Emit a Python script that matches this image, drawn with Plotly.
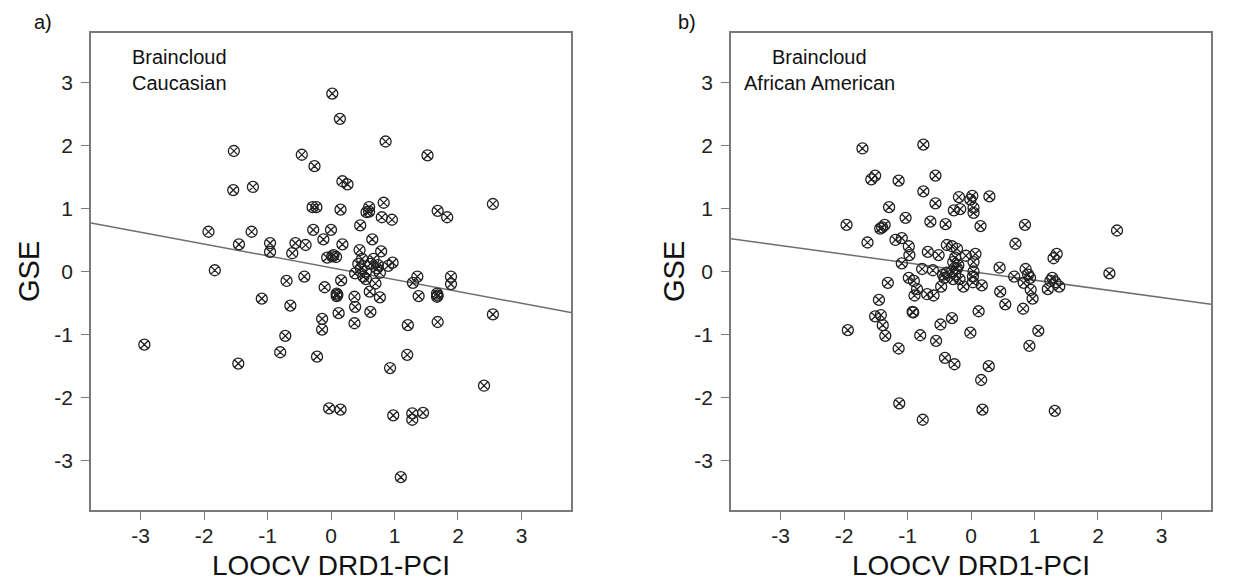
import numpy as np
import plotly.graph_objects as go

# ---------------- data ----------------
cauc_x = [0.02, 0.14, 0.86, -1.53, -0.46, 1.52, -0.26, 0.18, 0.26, -1.54, -1.23, -0.29, -0.23,
          0.15, 0.60, 0.56, 0.83, 2.55, 1.68, 1.83, 0.80, 0.96, 0.46, -1.93, -1.25, -0.28, 0.00,
          -1.45, -0.96, -0.96, -0.56, -0.40, -0.61, -0.12, 0.18, 0.65, -0.06, 0.02, 0.08, 0.45,
          0.79, 0.49, 0.67, 0.43, 0.62, 0.90, 0.97, -1.83, -0.70, -0.42, 0.16, -0.10, 0.38, 0.51,
          0.77, 0.70, 0.61, 0.77, 1.36, 1.29, 1.38, 1.89, 1.89, 1.67, 1.67, -1.09, -0.64, 0.09,
          0.09, 0.37, 0.38, 0.12, 0.62, 0.37, -0.14, -0.14, 2.55, 1.68, 1.21, -0.72, -2.94, -0.80,
          -0.22, 1.20, -1.46, 0.93, 2.41, -0.03, 0.15, 0.98, 1.28, 1.28, 1.45, 1.10,
          0.55, 0.47, 0.72, 0.10, 0.55, 0.74, 1.68, 0.04, 0.60]
cauc_y = [2.82, 2.42, 2.06, 1.91, 1.85, 1.84, 1.67, 1.43, 1.38, 1.29, 1.34, 1.02, 1.02,
          0.98, 1.02, 0.94, 1.09, 1.07, 0.96, 0.86, 0.86, 0.82, 0.73, 0.63, 0.63, 0.66, 0.66,
          0.43, 0.45, 0.31, 0.45, 0.42, 0.29, 0.51, 0.43, 0.51, 0.22, 0.24, 0.23, 0.34,
          0.32, 0.20, 0.20, 0.12, 0.12, 0.09, 0.14, 0.02, -0.15, -0.08, -0.14, -0.25, -0.03, -0.08,
          -0.02, -0.19, -0.32, -0.41, -0.08, -0.18, -0.39, -0.08, -0.20, -0.35, -0.40, -0.43, -0.54, -0.35,
          -0.39, -0.40, -0.56, -0.66, -0.64, -0.82, -0.75, -0.92, -0.68, -0.80, -0.85, -1.02, -1.16, -1.28,
          -1.35, -1.32, -1.46, -1.53, -1.81, -2.17, -2.19, -2.28, -2.25, -2.35, -2.24, -3.26,
          0.00, 0.05, 0.05, -0.37, -0.12, 0.10, -0.38, 0.26, 0.95]

afam_x = [-1.71, -0.75, -1.51, -1.57, -1.14, -0.56, -0.75, -1.29, -0.56, -1.03, -1.96, -1.36, -1.43,
          -1.40, -0.64, -0.40, -0.19, 0.02, -0.01, 0.04, 0.04, -0.27, -0.17, 0.29, 0.15, 0.85, 0.70,
          2.30, -1.63, -1.19, -1.09, -0.98, -0.97, -1.09, -0.77, -0.68, -0.51, -0.38, -0.30, -0.22,
          -0.25, -0.20, 0.07, 0.04, 0.45, 0.86, 1.30, 1.35, 2.18, -1.31, -0.98, -0.90, -0.85, -0.89,
          -0.69, -0.59, -0.47, -1.45, -1.51, -1.42, -1.39, -1.35, -0.92, -0.91, -1.94, -1.14, -0.80,
          -0.48, -0.30, -0.55, -0.41, -0.26, -0.01, 0.12, -0.12, 0.03, 0.17, 0.46, 0.54, 0.82, 0.68,
          0.83, 0.93, 0.94, 0.97, 1.06, 0.92, 1.28, 1.33, 1.21, 1.39, 0.28, 0.16, -1.13, 0.18, 1.32,
          -0.76, -0.44, -0.38, -0.30, -0.25, -0.22, -0.28, -0.18, 0.04, 0.03, -0.60, -0.42, -0.28,
          0.90, 1.25, -0.08]
afam_y = [1.95, 2.01, 1.52, 1.46, 1.44, 1.52, 1.27, 1.02, 1.08, 0.85, 0.74, 0.74, 0.68,
          0.70, 0.79, 0.75, 1.18, 1.20, 1.14, 1.01, 0.93, 0.97, 0.99, 1.19, 0.72, 0.74, 0.44,
          0.65, 0.46, 0.50, 0.53, 0.40, 0.26, 0.13, 0.04, 0.31, 0.26, 0.42, 0.40, 0.36,
          0.22, 0.10, 0.28, 0.15, 0.06, 0.04, 0.21, 0.28, -0.03, -0.18, -0.10, -0.15, -0.28, -0.38,
          -0.36, -0.38, -0.24, -0.45, -0.71, -0.69, -0.85, -1.02, -0.64, -0.65, -0.93, -1.22, -1.01,
          -0.84, -0.74, -1.10, -1.37, -1.47, -0.97, -0.63, -0.24, -0.17, -0.22, -0.32, -0.52, -0.59, -0.08,
          -0.18, -0.10, -0.29, -0.43, -0.94, -1.18, -0.10, -0.17, -0.28, -0.24, -1.50, -1.72, -2.09, -2.19, -2.21,
          -2.35, -0.05, -0.02, 0.00, -0.05, 0.05, 0.15, -0.12, 0.00, -0.08, 0.02, -0.10, -0.12,
          -0.05, -0.15, 0.25]

# regression line coefficients (intercept, slope)
cauc_fit = (0.06, -0.188)
afam_fit = (0.00, -0.137)

tick_vals = [-3, -2, -1, 0, 1, 2, 3]
tick_text = ["-3", "-2", "-1", "0", "1", "2", "3"]
AX_RANGE = [-3.78, 3.78]

panel_labels = ["a)", "b)"]
cohort_labels = [("Braincloud", "Caucasian"), ("Braincloud", "African American")]
x_title = "LOOCV DRD1-PCI"
y_title = "GSE"

# ---------------- figure ----------------
# page body has an 8px margin; figure sized to fit the 1249x588 window
OFF = 8
W, H = 1249 - 2 * OFF, 588 - 2 * OFF
FONT = "Liberation Sans, Arial, Helvetica, sans-serif"
BOX = "#7a7a7a"


def fx(px):  # window pixel -> paper x
    return (px - OFF) / W


def fy(py):  # window pixel -> paper y
    return (H - (py - OFF)) / H


fig = go.Figure()

panels = [
    dict(x=cauc_x, y=cauc_y, fit=cauc_fit, xa="x", ya="y", left=91, right=571),
    dict(x=afam_x, y=afam_y, fit=afam_fit, xa="x2", ya="y2", left=731, right=1211),
]
top_px, bot_px = 33, 510

for i, p in enumerate(panels):
    xl = np.array(AX_RANGE)
    yl = p["fit"][0] + p["fit"][1] * xl
    fig.add_trace(go.Scatter(x=xl, y=yl, mode="lines", xaxis=p["xa"], yaxis=p["ya"],
                             line=dict(color="#6e6e6e", width=1.5), showlegend=False,
                             hoverinfo="skip"))
    fig.add_trace(go.Scatter(x=p["x"], y=p["y"], mode="markers", xaxis=p["xa"], yaxis=p["ya"],
                             marker=dict(symbol="circle-x-open", size=11, color="#222222",
                                         line=dict(width=1.3, color="#222222")),
                             showlegend=False))

axis_common = dict(range=AX_RANGE, tickmode="array", tickvals=tick_vals, ticktext=tick_text,
                   showgrid=False, zeroline=False, showline=True, linecolor=BOX, linewidth=1.5,
                   mirror=True, ticks="outside", ticklen=8, tickwidth=1.2, tickcolor=BOX,
                   tickfont=dict(family=FONT, size=21, color="#222"))

yd = [fy(bot_px), fy(top_px)]
layout = dict(width=W, height=H, margin=dict(l=0, r=0, t=0, b=0),
              plot_bgcolor="white", paper_bgcolor="white",
              font=dict(family=FONT, color="#222"), showlegend=False)
layout["xaxis"] = dict(axis_common, domain=[fx(91), fx(571)], anchor="y", ticklabelstandoff=-2)
layout["yaxis"] = dict(axis_common, domain=yd, anchor="x", ticklabelstandoff=4)
layout["xaxis2"] = dict(axis_common, domain=[fx(731), fx(1211)], anchor="y2", ticklabelstandoff=-2)
layout["yaxis2"] = dict(axis_common, domain=yd, anchor="x2", ticklabelstandoff=4)
fig.update_layout(**layout)

ann = []
for i, p in enumerate(panels):
    cx = (p["left"] + p["right"]) / 2
    ann.append(dict(text=x_title, xref="paper", yref="paper", x=fx(cx), y=fy(565),
                    xanchor="center", yanchor="middle", showarrow=False,
                    font=dict(family=FONT, size=28, color="#111")))
    gx = 29 if i == 0 else 674
    ann.append(dict(text=y_title, xref="paper", yref="paper", x=fx(gx), y=fy(272),
                    xanchor="center", yanchor="middle", showarrow=False, textangle=-90,
                    font=dict(family=FONT, size=29, color="#111")))
    lx = 43 if i == 0 else 687
    ann.append(dict(text=panel_labels[i], xref="paper", yref="paper", x=fx(lx), y=fy(22),
                    xanchor="center", yanchor="middle", showarrow=False,
                    font=dict(family=FONT, size=20, color="#111")))
    tx = p["left"] + 88
    for j, line in enumerate(cohort_labels[i]):
        ann.append(dict(text=line, xref="paper", yref="paper", x=fx(tx), y=fy(57 + 26 * j),
                        xanchor="center", yanchor="middle", showarrow=False,
                        font=dict(family=FONT, size=20, color="#111")))
fig.update_layout(annotations=ann)

fig.write_html("out.html")
